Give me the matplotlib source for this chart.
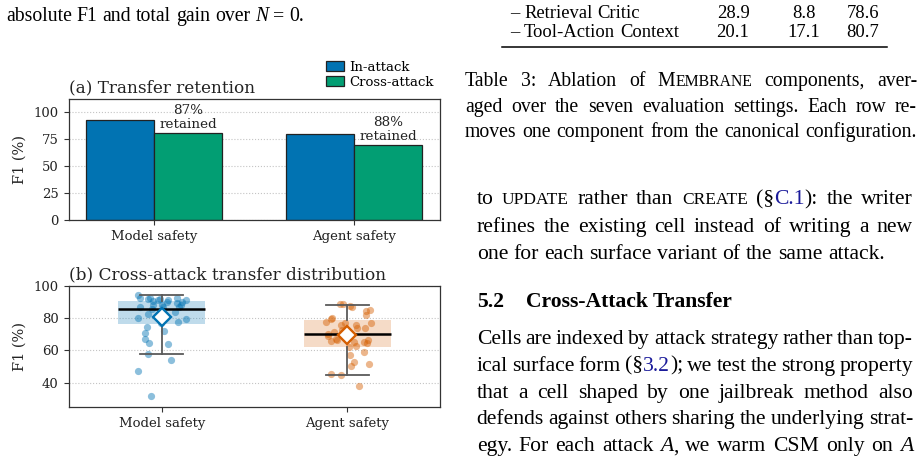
import numpy as np
import matplotlib.pyplot as plt
from matplotlib.colors import to_rgba

# ---- data ----
groups = ['Model safety', 'Agent safety']
in_attack = [92.8, 79.2]
cross_attack = [80.8, 69.7]
retained = ['87%', '88%']

model_f1 = [94.4, 92.3, 91.9, 90.6, 92.3, 91.9, 91.25, 90.2, 92.7, 89.8, 91.25, 87.0,
            88.1, 87.0, 86.0, 82.9, 87.1, 84.0, 80.2, 77.3, 77.7, 79.4, 74.6, 71.0,
            71.9, 67.3, 64.8, 64.2, 57.9, 54.0, 47.1, 31.9, 88.1, 91.25, 89.2, 88.1]
model_jit = [-0.126, -0.117, -0.072, -0.049, -0.063, -0.009, 0.036, 0.027, 0.081, 0.108,
             0.131, 0.095, 0.103, -0.117, -0.054, -0.072, 0.009, 0.072, -0.126, -0.005,
             0.086, 0.131, -0.081, -0.090, 0.014, -0.090, -0.067, 0.032, -0.072, 0.050,
             -0.130, -0.060, 0.000, -0.018, 0.081, -0.045]

agent_f1 = [88.75, 88.75, 87.0, 87.7, 84.4, 85.0, 81.9, 80.4, 79.2, 77.7, 77.1, 75.6,
            75.6, 74.0, 74.0, 77.1, 72.5, 71.5, 70.4, 68.9, 66.9, 65.8, 65.2, 62.5,
            65.2, 66.25, 64.8, 62.0, 57.3, 59.0, 52.7, 50.2, 51.7, 45.6, 45.0, 38.1,
            70.4, 66.25]
agent_jit = [-0.040, -0.022, 0.023, 0.014, 0.099, 0.122, 0.099, -0.081, -0.090, -0.112,
             -0.013, -0.036, 0.049, 0.050, 0.094, 0.126, -0.027, -0.072, -0.103, -0.105,
             -0.063, -0.090, 0.036, 0.045, 0.090, 0.114, 0.108, 0.012, 0.014, 0.090,
             0.036, 0.022, 0.117, -0.090, -0.031, 0.066, -0.009, -0.054]

model_stats = dict(med=85.8, q1=76.3, q3=90.6, whislo=57.7, whishi=94.4, mean=80.5)
agent_stats = dict(med=70.2, q1=62.1, q3=78.8, whislo=44.8, whishi=88.5, mean=69.4)

BLUE = '#0173B2'
GREEN = '#029E73'
ORANGE = '#D55E00'
EDGE = '#333333'

plt.rcParams['font.family'] = 'DejaVu Serif'
plt.rcParams['axes.edgecolor'] = EDGE
plt.rcParams['axes.linewidth'] = 0.9

W, H = 922, 458
fig = plt.figure(figsize=(W / 100, H / 100), dpi=100)


def px_axes(l, t, r, b):
    return fig.add_axes([l / W, 1 - b / H, (r - l) / W, (b - t) / H])


def style(ax):
    ax.tick_params(labelsize=9.5, length=3.5, width=0.8, color=EDGE, pad=4, labelcolor='#222222')
    ax.yaxis.grid(True, ls=':', color='#c4c4c4', lw=0.8)
    ax.set_axisbelow(True)
    ax.set_ylabel('F1 (%)', fontsize=10.5, color='#222222', labelpad=5)


# ---- (a) bars ----
ax1 = px_axes(69, 99, 440, 220)
x = np.arange(len(groups))
bw = 0.34
ax1.bar(x - bw / 2, in_attack, bw, color=BLUE, edgecolor='#222222', lw=0.9, label='In-attack')
ax1.bar(x + bw / 2, cross_attack, bw, color=GREEN, edgecolor='#222222', lw=0.9, label='Cross-attack')
for xi, h, r in zip(x, cross_attack, retained):
    ax1.text(xi + bw / 2, h + 2.0, f'{r}\nretained', ha='center', va='bottom',
             fontsize=9.7, color='#222222', linespacing=1.05)
ax1.set_xlim(-0.425, 1.43)
ax1.set_ylim(0, 112)
ax1.set_yticks([0, 25, 50, 75, 100])
ax1.set_xticks(x, groups)
ax1.set_title('(a) Transfer retention', loc='left', fontsize=12.2, pad=5, color='#222222')
style(ax1)
ax1.legend(loc='lower right', bbox_to_anchor=(434 / W, 1 - 89 / H), bbox_transform=fig.transFigure,
           frameon=False, fontsize=9.5, handlelength=1.4, handleheight=0.8, handletextpad=0.4,
           labelspacing=0.15, borderpad=0, borderaxespad=0)

# ---- (b) distribution ----
ax2 = px_axes(69, 286, 440, 406.7)
stats = [dict(model_stats, label=groups[0]), dict(agent_stats, label=groups[1])]
bp = ax2.bxp(stats, positions=[0, 1], widths=0.47, capwidths=0.23, patch_artist=True,
             showmeans=True, showfliers=False,
             boxprops=dict(edgecolor='none', lw=0),
             medianprops=dict(color='black', lw=1.8, zorder=3),
             whiskerprops=dict(color='#5a5a5a', lw=1.3, zorder=3),
             capprops=dict(color='#5a5a5a', lw=1.3, zorder=3),
             meanprops=dict(marker='D', markerfacecolor='white', markersize=9.5,
                            markeredgewidth=1.7, zorder=5))
for i, c in enumerate([BLUE, ORANGE]):
    bp['boxes'][i].set_facecolor(to_rgba(c, 0.25 if i == 0 else 0.22))
    bp['boxes'][i].set_zorder(1)
    bp['means'][i].set_markeredgecolor(c)
ax2.scatter(0 + np.array(model_jit), model_f1, s=27, color=BLUE, alpha=0.45, lw=0, zorder=2)
ax2.scatter(1 + np.array(agent_jit), agent_f1, s=27, color=ORANGE, alpha=0.45, lw=0, zorder=2)
ax2.set_xlim(-0.5, 1.5)
ax2.set_ylim(25, 100)
ax2.set_yticks([40, 60, 80, 100])
ax2.set_xticks([0, 1], groups)
ax2.set_title('(b) Cross-attack transfer distribution', loc='left', fontsize=12.2, pad=5, color='#222222')
style(ax2)

# ---- surrounding page text ----
page = fig.add_axes([0, 0, 1, 1])
page.set_xlim(0, W)
page.set_ylim(H, 0)
page.axis('off')
rend = fig.canvas.get_renderer()
LINK = '#1a1a9a'


def line(x0, y, parts, size, x1=None):
    atoms = []
    space = False
    for txt, kw in parts:
        for i, p in enumerate(txt.split(' ')):
            if i > 0:
                space = True
            if p:
                atoms.append((p, kw, space and bool(atoms)))
                space = False
    arts, widths = [], []
    for p, kw, sp in atoms:
        st = dict(family='Liberation Serif', fontsize=size, va='baseline', ha='left', color='black')
        st.update(kw)
        if st.pop('sc', False):
            st['fontsize'] = size * 0.8
        t = page.text(0, y, p, **st)
        arts.append(t)
        widths.append(t.get_window_extent(rend).width)
    ngap = sum(a[2] for a in atoms)
    gap = size * 100 / 72 * 0.25
    if x1 is not None and ngap:
        gap = (x1 - x0 - sum(widths)) / ngap
    xx = x0
    for t, w, a in zip(arts, widths, atoms):
        if a[2]:
            xx += gap
        t.set_x(xx)
        xx += w


N = {}
SC = {'sc': True}
IT = {'style': 'italic'}
BL = {'color': LINK}
BF = {'weight': 'bold'}
CAP = 14.2
TAB = 13.4
BODY = 15.6

line(6, 20.7, [('absolute F1 and total gain over ', N), ('N', IT), (' = 0.', N)], CAP)

# table tail
line(510, 18.3, [('\u2013 Retrieval Critic', N)], TAB)
line(510, 37.3, [('\u2013 Tool-Action Context', N)], TAB)
for col, (a, b) in zip([733, 804, 863], [('28.9', '20.1'), ('8.8', '17.1'), ('78.6', '80.7')]):
    page.text(col, 18.3, a, ha='center', va='baseline', family='Liberation Serif', fontsize=TAB)
    page.text(col, 37.3, b, ha='center', va='baseline', family='Liberation Serif', fontsize=TAB)
page.plot([501.7, 887], [47.3, 47.3], color='black', lw=1.1)

line(465, 86, [('Table 3: Ablation of M', N), ('EMBRANE', SC), (' components, aver-', N)], CAP, 917)
line(465, 111.7, [('aged over the seven evaluation settings. Each row re-', N)], CAP, 917)
line(465, 136.7, [('moves one component from the canonical configuration.', N)], CAP, 917)

line(476.7, 204.3, [('to ', N), ('UPDATE', SC), (' rather than ', N), ('CREATE', SC), (' (\u00a7', N),
                    ('C.1', BL), ('): the writer', N)], BODY, 913)
line(476.7, 231.7, [('refines the existing cell instead of writing a new', N)], BODY, 913)
line(476.7, 259, [('one for each surface variant of the same attack.', N)], BODY)

line(476.7, 306.7, [('5.2', BF)], BODY)
line(525.7, 306.7, [('Cross-Attack Transfer', BF)], BODY)

line(476.7, 344, [('Cells are indexed by attack strategy rather than top-', N)], BODY, 913)
line(476.7, 370.8, [('ical surface form (\u00a7', N), ('3.2', BL), ('); we test the strong property', N)], BODY, 913)
line(476.7, 397.6, [('that a cell shaped by one jailbreak method also', N)], BODY, 913)
line(476.7, 424.4, [('defends against others sharing the underlying strat-', N)], BODY, 913)
line(476.7, 451.2, [('egy. For each attack ', N), ('A', IT), (', we warm CSM only on ', N), ('A', IT)], BODY, 913)

fig.savefig('out.png', dpi=100)
